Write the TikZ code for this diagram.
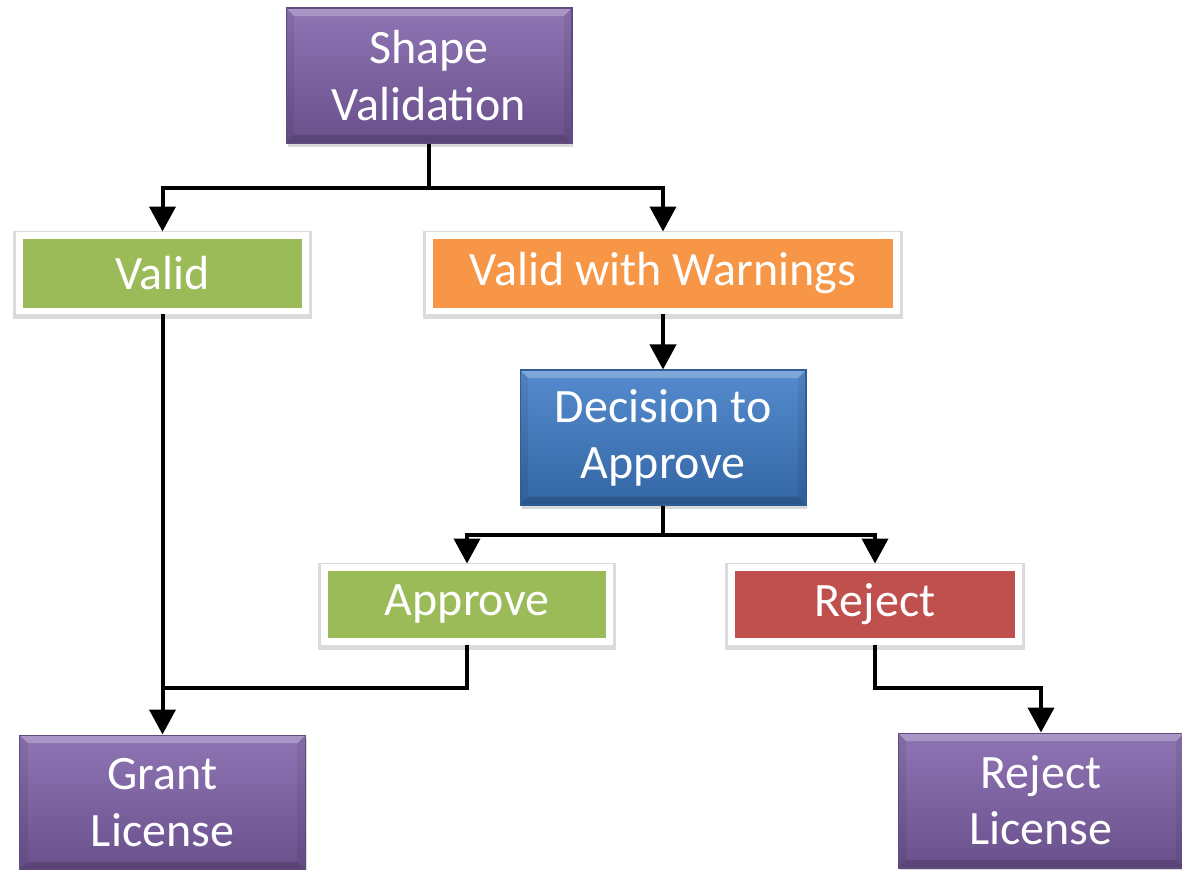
\documentclass[tikz,border=0pt]{standalone}
\usepackage{fontspec}
\setmainfont{Carlito}
\usetikzlibrary{arrows.meta,shadows}
\definecolor{violet1}{RGB}{128,98,170}
\definecolor{bleu1}{RGB}{62,124,200}
\definecolor{vert1}{RGB}{155,187,89}
\definecolor{orange1}{RGB}{247,150,70}
\definecolor{rouge1}{RGB}{192,80,77}

\begin{document}
\begin{tikzpicture}[x=0.02cm, y=-0.02cm,
	texte/.style={text=white, font=\fontsize{27.3}{32}\selectfont, align=center, inner sep=0pt},
	relief/.style={texte, draw=#1!75!black, line width=0.6pt, top color=#1!88!white, bottom color=#1!82!black,
		minimum width=5.72cm, minimum height=2.7cm,
		drop shadow={opacity=0.3, shadow xshift=0.03cm, shadow yshift=-0.08cm},
		path picture={
			%biseau du haut et du bas
			\fill[white, opacity=0.25] (path picture bounding box.north west) -- (path picture bounding box.north east)
				-- ([xshift=-0.16cm,yshift=-0.16cm]path picture bounding box.north east)
				-- ([xshift=0.16cm,yshift=-0.16cm]path picture bounding box.north west) -- cycle;
			\fill[black, opacity=0.15] (path picture bounding box.south west) -- (path picture bounding box.south east)
				-- ([xshift=-0.16cm,yshift=0.16cm]path picture bounding box.south east)
				-- ([xshift=0.16cm,yshift=0.16cm]path picture bounding box.south west) -- cycle;
			\fill[black, opacity=0.07] (path picture bounding box.north west) -- ([xshift=0.16cm,yshift=-0.16cm]path picture bounding box.north west)
				-- ([xshift=0.16cm,yshift=0.16cm]path picture bounding box.south west) -- (path picture bounding box.south west) -- cycle;
			\fill[black, opacity=0.07] (path picture bounding box.north east) -- ([xshift=-0.16cm,yshift=-0.16cm]path picture bounding box.north east)
				-- ([xshift=-0.16cm,yshift=0.16cm]path picture bounding box.south east) -- (path picture bounding box.south east) -- cycle;
		}},
	cadre/.style={texte, fill=#1, draw=white, line width=0.14cm, minimum height=1.52cm,
		drop shadow={opacity=0.14, draw=black, line width=0.26cm, shadow xshift=0cm, shadow yshift=-0.04cm}},
	fleche/.style={line width=0.08cm, -{Triangle[length=0.5cm,width=0.52cm]}},
	trait/.style={line width=0.08cm}]

	\useasboundingbox (0,0) rectangle (1182,869);

	%les boites
	\node[relief=violet1] (sv) at (429,75.5) {Shape\\Validation};
	\node[cadre=vert1, minimum width=5.74cm] (valid) at (162.5,273) {Valid};
	\node[cadre=orange1, minimum width=9.36cm] (vww) at (663,273) {Valid with Warnings};
	\node[relief=bleu1] (dec) at (663,437.5) {Decision to\\Approve};
	\node[cadre=vert1, minimum width=5.7cm, minimum height=1.48cm] (app) at (467,604) {Approve};
	\node[cadre=rouge1, minimum width=5.74cm, minimum height=1.48cm] (rej) at (875,604) {Reject};
	\node[relief=violet1] (grant) at (162.5,802.5) {Grant\\License};
	\node[relief=violet1] (rl) at (1041,800.5) {Reject\\License};

	%les liens
	\coordinate (j1) at (429,188);
	\coordinate (j2) at (663,535);
	\coordinate (j3) at (162.5,688);
	\coordinate (j4) at (875,688);

	\draw[trait] (sv.south) -- (j1);
	\draw[fleche] (j1) -| (valid.north);
	\draw[fleche] (j1) -| (vww.north);
	\draw[fleche] (valid.south) -- (grant.north);
	\draw[fleche] (vww.south) -- (dec.north);
	\draw[trait] (dec.south) -- (j2);
	\draw[fleche] (j2) -| (app.north);
	\draw[fleche] (j2) -| (rej.north);
	\draw[trait] (app.south) |- (j3);
	\draw[fleche] (rej.south) -- (j4) -| (rl.north);

\end{tikzpicture}
\end{document}
